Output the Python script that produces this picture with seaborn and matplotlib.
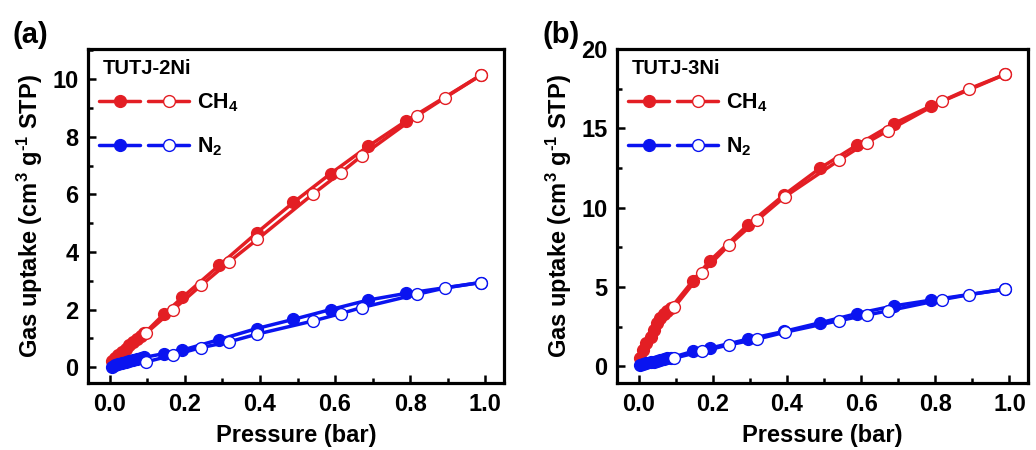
import numpy as np
import pandas as pd
import matplotlib
matplotlib.use("Agg")
import matplotlib.pyplot as plt
from matplotlib.lines import Line2D
from matplotlib.legend_handler import HandlerTuple
from matplotlib.ticker import MultipleLocator, FormatStrFormatter
import seaborn as sns

# ---------------- data ----------------
# TUTJ-2Ni: adsorption (filled) and desorption (open) branches
p_ads_a = [0.005, 0.014, 0.023, 0.032, 0.042, 0.052, 0.062, 0.072, 0.082, 0.092,
           0.144, 0.193, 0.292, 0.391, 0.489, 0.588, 0.688, 0.788, 0.988]
ch4_ads_a = [0.20, 0.31, 0.42, 0.53, 0.64, 0.76, 0.87, 0.97, 1.07, 1.17,
             1.84, 2.42, 3.54, 4.66, 5.72, 6.72, 7.67, 8.54, 10.14]
n2_ads_a = [0.02, 0.06, 0.10, 0.14, 0.18, 0.21, 0.25, 0.28, 0.31, 0.34,
            0.47, 0.59, 0.96, 1.34, 1.66, 2.00, 2.33, 2.56, 2.94]
p_des_a = [0.988, 0.893, 0.818, 0.671, 0.615, 0.540, 0.393, 0.318, 0.244, 0.169, 0.096]
ch4_des_a = [10.14, 9.36, 8.73, 7.34, 6.75, 6.00, 4.44, 3.66, 2.85, 2.00, 1.17]
n2_des_a = [2.94, 2.75, 2.53, 2.07, 1.86, 1.60, 1.15, 0.88, 0.68, 0.42, 0.18]

# TUTJ-3Ni
p_ads_b = [0.004, 0.013, 0.021, 0.033, 0.042, 0.051, 0.059, 0.068, 0.077, 0.088,
           0.146, 0.193, 0.294, 0.392, 0.490, 0.590, 0.688, 0.788, 0.988]
ch4_ads_b = [0.52, 1.04, 1.46, 1.88, 2.29, 2.71, 3.02, 3.30, 3.50, 3.70,
             5.38, 6.67, 8.90, 10.80, 12.50, 13.96, 15.30, 16.40, 18.40]
n2_ads_b = [0.08, 0.14, 0.19, 0.25, 0.30, 0.35, 0.40, 0.45, 0.50, 0.55,
            0.94, 1.15, 1.71, 2.20, 2.75, 3.33, 3.81, 4.17, 4.86]
p_des_b = [0.988, 0.892, 0.819, 0.673, 0.615, 0.541, 0.395, 0.319, 0.245, 0.170, 0.097]
ch4_des_b = [18.40, 17.50, 16.73, 14.86, 14.10, 13.00, 10.70, 9.20, 7.67, 5.88, 3.75]
n2_des_b = [4.86, 4.52, 4.21, 3.50, 3.23, 2.88, 2.15, 1.71, 1.36, 0.94, 0.52]

gas_labels = ["CH$_4$", "N$_2$"]
x_label = "Pressure (bar)"
y_label = "Gas uptake (cm$^3$ g$^{\\text{-1}}$ STP)"

panels = [
    dict(tag="(a)", name="TUTJ-2Ni", p_ads=p_ads_a, p_des=p_des_a,
         ch4=(ch4_ads_a, ch4_des_a), n2=(n2_ads_a, n2_des_a),
         ylim=(-0.55, 11.05), ymaj=2, ymin=1),
    dict(tag="(b)", name="TUTJ-3Ni", p_ads=p_ads_b, p_des=p_des_b,
         ch4=(ch4_ads_b, ch4_des_b), n2=(n2_ads_b, n2_des_b),
         ylim=(-1.05, 20.0), ymaj=5, ymin=2.5),
]

RED = "#E31E24"
BLUE = "#0A14F0"

# ---------------- style ----------------
sns.set_theme(style="ticks")
plt.rcParams["font.family"] = ["Liberation Sans", "DejaVu Sans"]
plt.rcParams.update({
    "font.weight": "bold",
    "axes.labelweight": "bold",
    "text.color": "black",
    "axes.labelcolor": "black",
    "xtick.color": "black",
    "ytick.color": "black",
    "axes.edgecolor": "black",
    "mathtext.fontset": "custom",
    "mathtext.rm": "Liberation Sans:bold",
    "mathtext.bf": "Liberation Sans:bold",
    "mathtext.default": "rm",
})

W, H = 1036, 450
fig = plt.figure(figsize=(W / 100, H / 100), dpi=100)

boxes = [(88, 504), (617, 1028)]
top_px, bot_px = 49, 383

LW = 2.5
MS = 8.5

for (x0, x1), P in zip(boxes, panels):
    aw = x1 - x0
    ah = bot_px - top_px
    ax = fig.add_axes([x0 / W, 1 - bot_px / H, aw / W, ah / H])

    for col, (ads, des) in ((RED, P["ch4"]), (BLUE, P["n2"])):
        sns.lineplot(x=P["p_ads"], y=ads, ax=ax, sort=False, estimator=None,
                     color=col, lw=LW, marker="o", ms=MS, mfc=col, mec=col,
                     mew=1.0, zorder=3)
        sns.lineplot(x=P["p_des"], y=des, ax=ax, sort=False, estimator=None,
                     color=col, lw=LW, marker="o", ms=MS, mfc="white", mec=col,
                     mew=1.0, zorder=4)

    ax.set_xlim(-0.058, 1.05)
    ax.set_ylim(*P["ylim"])
    ax.xaxis.set_major_locator(MultipleLocator(0.2))
    ax.xaxis.set_minor_locator(MultipleLocator(0.1))
    ax.xaxis.set_major_formatter(FormatStrFormatter("%.1f"))
    ax.yaxis.set_major_locator(MultipleLocator(P["ymaj"]))
    ax.yaxis.set_minor_locator(MultipleLocator(P["ymin"]))
    ax.yaxis.set_major_formatter(FormatStrFormatter("%g"))

    ax.tick_params(which="both", direction="in", top=False, right=False,
                   labelsize=17, width=1.8, pad=7, colors="black")
    ax.tick_params(which="major", length=6)
    ax.tick_params(which="minor", length=3.5)
    for lab in ax.get_xticklabels() + ax.get_yticklabels():
        lab.set_fontweight("bold")
    for s in ax.spines.values():
        s.set_linewidth(2.3)
        s.set_color("black")
        s.set_visible(True)

    ax.set_xlabel(x_label, fontsize=17, fontweight="bold", labelpad=6)
    ax.set_ylabel(y_label, fontsize=17, fontweight="bold", labelpad=5)

    # sample name above the legend
    ax.text(15 / aw, 1 - 19 / ah, P["name"], transform=ax.transAxes,
            fontsize=14.5, fontweight="bold", ha="left", va="center")

    # legend: filled (adsorption) and open (desorption) symbols side by side
    handles = []
    for col in (RED, BLUE):
        h_f = Line2D([], [], color=col, lw=LW, marker="o", ms=MS, mfc=col, mec=col)
        h_o = Line2D([], [], color=col, lw=LW, marker="o", ms=MS, mfc="white", mec=col)
        handles.append((h_f, h_o))
    leg = ax.legend(handles=handles, labels=gas_labels,
                    handler_map={tuple: HandlerTuple(ndivide=None, pad=0.35)},
                    loc="center left", bbox_to_anchor=(11 / aw, 1 - 76 / ah),
                    frameon=False, borderpad=0, borderaxespad=0,
                    handlelength=4.2, handletextpad=0.33, labelspacing=1.0,
                    fontsize=15.5)
    for t in leg.get_texts():
        t.set_fontweight("bold")

    fig.text((x0 - 75) / W, 1 - 35 / H, P["tag"], fontsize=21,
             fontweight="bold", ha="left", va="center")

fig.savefig("out.png", dpi=100)
